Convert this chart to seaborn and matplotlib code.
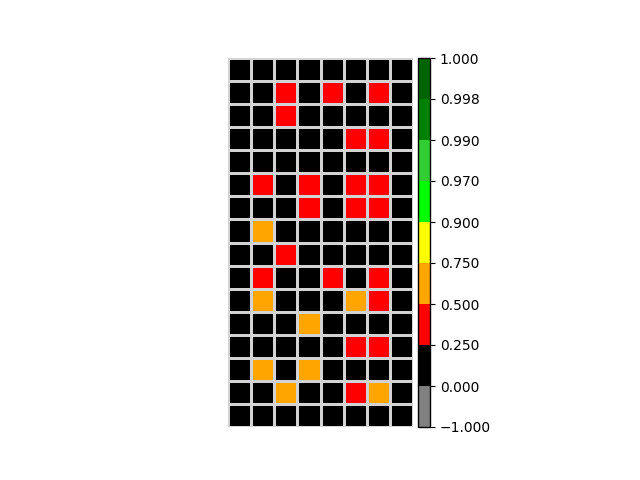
import numpy as np
import pandas as pd
import matplotlib
matplotlib.use("Agg")
import matplotlib.pyplot as plt
import seaborn as sns
from matplotlib.colors import ListedColormap, BoundaryNorm
from matplotlib.ticker import FuncFormatter

# Data: 16 rows x 8 columns (0 = black, 0.4 = red, 0.6 = orange)
rows = [
    [0, 0, 0, 0, 0, 0, 0, 0],
    [0, 0, 0.4, 0, 0.4, 0, 0.4, 0],
    [0, 0, 0.4, 0, 0, 0, 0, 0],
    [0, 0, 0, 0, 0, 0.4, 0.4, 0],
    [0, 0, 0, 0, 0, 0, 0, 0],
    [0, 0.4, 0, 0.4, 0, 0.4, 0.4, 0],
    [0, 0, 0, 0.4, 0, 0.4, 0.4, 0],
    [0, 0.6, 0, 0, 0, 0, 0, 0],
    [0, 0, 0.4, 0, 0, 0, 0, 0],
    [0, 0.4, 0, 0, 0.4, 0, 0.4, 0],
    [0, 0.6, 0, 0, 0, 0.6, 0.4, 0],
    [0, 0, 0, 0.6, 0, 0, 0, 0],
    [0, 0, 0, 0, 0, 0.4, 0.4, 0],
    [0, 0.6, 0, 0.6, 0, 0, 0, 0],
    [0, 0, 0.6, 0, 0, 0.4, 0.6, 0],
    [0, 0, 0, 0, 0, 0, 0, 0],
]
boundaries = [-1.0, 0.0, 0.25, 0.5, 0.75, 0.9, 0.97, 0.99, 0.998, 1.0]
colors = ["gray", "black", "red", "orange", "yellow", "lime", "limegreen", "green", "darkgreen"]

data = pd.DataFrame(np.array(rows))
cmap = ListedColormap(colors)
norm = BoundaryNorm(boundaries, cmap.N)

fig = plt.figure(figsize=(6.4, 4.8), dpi=100)
ax = fig.add_axes([228/640, 53/480, 185/640, 369/480])
cax = fig.add_axes([418/640, 53/480, 12/640, 369/480])

fmt = FuncFormatter(lambda x, pos: f"{x:.3f}".replace("-", "\u2212"))
sns.heatmap(data, ax=ax, cmap=cmap, norm=norm, linewidths=1.0, linecolor="lightgray",
            cbar=True, cbar_ax=cax, xticklabels=False, yticklabels=False,
            cbar_kws={"ticks": boundaries, "format": fmt})
ax.set_xlabel("")
ax.set_ylabel("")
for s in ax.spines.values():
    s.set_visible(False)
cb = ax.collections[0].colorbar
cb.outline.set_visible(True)
cb.outline.set_edgecolor("black")
cb.outline.set_linewidth(1.0)

fig.savefig("out.png", dpi=100)
